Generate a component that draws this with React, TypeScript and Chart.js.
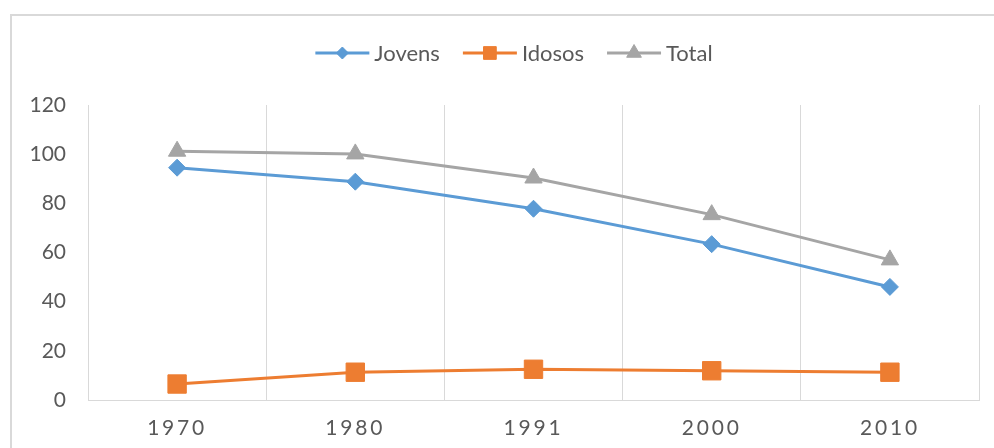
import React, { useEffect, useRef } from 'react';
import { Chart, registerables } from 'chart.js';
import { drawPoint } from 'chart.js/helpers';

Chart.register(...registerables);

const categories = ['1970', '1980', '1991', '2000', '2010'];
const jovens = [94.5, 88.8, 77.8, 63.4, 46];
const idosos = [6.5, 11.3, 12.5, 11.9, 11.3];
const total = [101.2, 100.1, 90.3, 75.4, 57];
const seriesNames = ['Jovens', 'Idosos', 'Total'];
const yMin = 0;
const yMax = 120;
const yStep = 20;

const COLORS = ['#5B9BD5', '#ED7D31', '#A5A5A5'];
const FONT = 'Lato, "Open Sans", sans-serif';
const TEXT = '#595959';
const GRID = '#D9D9D9';

const framePlugin = {
  id: 'frame',
  beforeDraw(chart: any) {
    const ctx = chart.ctx;
    ctx.save();
    ctx.fillStyle = '#ffffff';
    ctx.fillRect(0, 0, chart.width, chart.height);
    ctx.strokeStyle = GRID;
    ctx.lineWidth = 2;
    ctx.strokeRect(11, 15, 1006, 520);
    ctx.restore();
  },
};

const spacingPlugin = {
  id: 'xLabelSpacing',
  afterDatasetsDraw(chart: any) {
    (chart.ctx as any).letterSpacing = '2.8px';
  },
  afterDraw(chart: any) {
    (chart.ctx as any).letterSpacing = '0px';
  },
};

const legendPlugin = {
  id: 'lineLegend',
  afterDraw(chart: any) {
    const ctx = chart.ctx;
    ctx.save();
    (ctx as any).letterSpacing = '0px';
    ctx.font = `22px ${FONT}`;
    const lineW = 54;
    const gap = 5;
    const spacing = 23;
    const items = chart.data.datasets.map((ds: any) => ({ ds, tw: ctx.measureText(ds.label).width }));
    const totalW =
      items.reduce((s: number, it: any) => s + lineW + gap + it.tw, 0) + spacing * (items.length - 1);
    let x = 514 - totalW / 2;
    const y = 53;
    items.forEach(({ ds, tw }: any) => {
      ctx.strokeStyle = ds.borderColor;
      ctx.lineWidth = 3;
      ctx.beginPath();
      ctx.moveTo(x, y);
      ctx.lineTo(x + lineW, y);
      ctx.stroke();
      ctx.fillStyle = ds.borderColor;
      ctx.lineWidth = 1;
      drawPoint(
        ctx,
        { pointStyle: ds.pointStyle, radius: ds.legendRadius, borderWidth: 1, rotation: 0 } as any,
        x + lineW / 2,
        y
      );
      ctx.fillStyle = TEXT;
      ctx.textAlign = 'left';
      ctx.textBaseline = 'middle';
      ctx.fillText(ds.label, x + lineW + gap, y + 1);
      x += lineW + gap + tw + spacing;
    });
    ctx.restore();
  },
};

export default function App() {
  const ref = useRef<HTMLCanvasElement | null>(null);

  useEffect(() => {
    if (!ref.current) return;
    const values = [jovens, idosos, total];
    const styles = ['rectRot', 'rect', 'triangle'];
    const radii = [8.5, 13, 10];
    const legendRadii = [6, 9, 8.5];
    const chart = new Chart(ref.current, {
      type: 'line',
      data: {
        labels: categories,
        datasets: seriesNames.map((name, i) => ({
          label: name,
          data: values[i],
          borderColor: COLORS[i],
          backgroundColor: COLORS[i],
          borderWidth: 3,
          pointStyle: styles[i],
          pointRadius: radii[i],
          pointBorderWidth: 1,
          pointBackgroundColor: COLORS[i],
          pointBorderColor: COLORS[i],
          tension: 0,
          fill: false,
          legendRadius: legendRadii[i],
        })) as any,
      },
      options: {
        responsive: false,
        animation: false,
        maintainAspectRatio: false,
        layout: { padding: { top: 105, left: 18, right: 15, bottom: 8 } },
        plugins: {
          legend: { display: false },
          tooltip: { enabled: false },
          title: { display: false },
        },
        scales: {
          x: {
            type: 'category',
            offset: true,
            grid: { display: true, offset: true, color: GRID, lineWidth: 1, drawTicks: false },
            border: { display: true, color: GRID, width: 1 },
            ticks: {
              z: 1,
              padding: 16,
              color: TEXT,
              font: { family: FONT, size: 21 },
              maxRotation: 0,
              autoSkip: false,
            },
            afterFit(scale: any) {
              scale.height = 40;
            },
          },
          y: {
            min: yMin,
            max: yMax,
            grid: { display: false, drawTicks: false },
            border: { display: false },
            ticks: {
              stepSize: yStep,
              padding: 22,
              color: TEXT,
              font: { family: FONT, size: 21 },
            },
            afterFit(scale: any) {
              scale.width = 70;
            },
          },
        },
      },
      plugins: [framePlugin, spacingPlugin, legendPlugin],
    });
    return () => chart.destroy();
  }, []);

  return (
    <div style={{ position: 'absolute', left: 0, top: 0, width: 994, height: 448 }}>
      <canvas ref={ref} width={994} height={448} style={{ display: 'block', width: 994, height: 448 }} />
    </div>
  );
}
